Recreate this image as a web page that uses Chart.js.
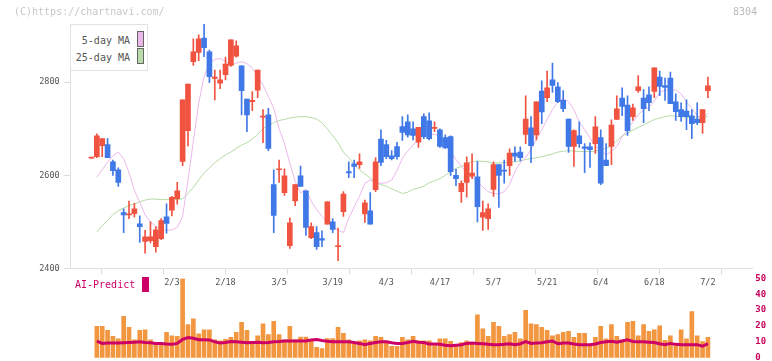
<!DOCTYPE html>
<html>
<head>
<meta charset="utf-8">
<script src="https://cdn.jsdelivr.net/npm/chart.js@4.4.1/dist/chart.umd.min.js"></script>
<style>
  html, body { margin: 0; padding: 0; background: #fff; }
  #wrap { position: relative; width: 772px; height: 361px; overflow: hidden; font-family: 'DejaVu Sans Mono', monospace; }
  .box { position: absolute; left: 0; width: 772px; }
  #priceBox { top: 0; height: 292px; }
  #volBox { top: 268px; height: 99px; }
  .copy { position: absolute; left: 14px; top: 6px; font-size: 10px; line-height: 12px; color: #c8c8c8; }
  .code { position: absolute; left: 733px; top: 6px; font-size: 10px; line-height: 12px; color: #bbb; }
  #legend { position: absolute; left: 70px; top: 24px; width: 76px; height: 45px; border: 1px solid #e2e2e2; background: #fff; }
  #legend .txt { position: absolute; right: 17px; font-size: 10px; line-height: 12px; color: #555; white-space: nowrap; }
  #legend .sw { position: absolute; left: 66px; width: 5px; height: 14px; border: 1px solid #666; }
  .ai { position: absolute; left: 75px; top: 279px; font-size: 10px; line-height: 12px; color: #cc0066; }
  .aibox { position: absolute; left: 142px; top: 277px; width: 7px; height: 15px; background: #cc0066; }
</style>
</head>
<body>
<div id="wrap">
  <div class="box" id="priceBox"><canvas id="priceChart"></canvas></div>
  <div class="box" id="volBox"><canvas id="volChart"></canvas></div>
  <div class="copy">(C)https://chartnavi.com/</div>
  <div class="code">8304</div>
  <div id="legend">
    <span class="txt" style="top:10px">5-day MA</span><i class="sw" style="top:6px;background:#ebb8ec"></i>
    <span class="txt" style="top:27px">25-day MA</span><i class="sw" style="top:23px;background:#b8dca8"></i>
  </div>
  <div class="ai">AI-Predict</div>
  <div class="aibox"></div>
</div>
<script>
(function () {
  'use strict';

  const UP = '#f05340';
  const DOWN = '#4078e8';
  const MA5_COLOR = '#ebb8ec';
  const MA25_COLOR = '#b5dba5';
  const VOL_COLOR = '#f29640';
  const AI_COLOR = '#cc0066';
  const AXIS = '#e0e0e0';

  // daily candles, oldest first
  const opens = [2637, 2640, 2664, 2666, 2629, 2612, 2520, 2515, 2518, 2496, 2458, 2460, 2447, 2464, 2511, 2525, 2550, 2630, 2696, 2844,
    2864, 2895, 2865, 2808, 2798, 2816, 2836, 2856, 2835, 2764, 2758, 2783, 2725, 2730, 2580, 2612, 2563, 2449, 2545, 2599,
    2567, 2466, 2477, 2464, 2495, 2500, 2447, 2522, 2608, 2625, 2623, 2517, 2524, 2569, 2678, 2666, 2642, 2662, 2705, 2715,
    2700, 2671, 2726, 2717, 2701, 2698, 2681, 2683, 2600, 2565, 2585, 2598, 2597, 2510, 2507, 2570, 2623, 2611, 2621, 2648,
    2650, 2688, 2702, 2687, 2781, 2767, 2805, 2790, 2761, 2721, 2662, 2685, 2661, 2661, 2668, 2681, 2633, 2662, 2720, 2766,
    2751, 2726, 2782, 2766, 2773, 2780, 2811, 2793, 2809, 2758, 2741, 2738, 2728, 2721, 2713, 2782];
  const highs = [2637, 2689, 2679, 2679, 2633, 2616, 2528, 2545, 2540, 2513, 2482, 2500, 2490, 2507, 2539, 2555, 2585, 2762, 2796, 2893,
    2902, 2925, 2869, 2826, 2826, 2854, 2891, 2889, 2835, 2764, 2780, 2826, 2741, 2744, 2612, 2633, 2614, 2509, 2580, 2620,
    2567, 2498, 2490, 2481, 2543, 2507, 2487, 2565, 2629, 2633, 2646, 2547, 2563, 2638, 2698, 2675, 2653, 2671, 2726, 2730,
    2715, 2703, 2732, 2734, 2715, 2700, 2687, 2685, 2613, 2588, 2640, 2646, 2630, 2545, 2539, 2629, 2623, 2633, 2657, 2661,
    2661, 2771, 2726, 2758, 2803, 2824, 2841, 2799, 2782, 2721, 2698, 2715, 2668, 2670, 2726, 2698, 2668, 2719, 2771, 2788,
    2771, 2753, 2814, 2784, 2790, 2831, 2824, 2809, 2822, 2775, 2756, 2762, 2741, 2756, 2741, 2811];
  const lows = [2637, 2638, 2640, 2638, 2600, 2576, 2477, 2507, 2510, 2456, 2433, 2455, 2435, 2462, 2476, 2513, 2538, 2621, 2663, 2836,
    2846, 2855, 2799, 2762, 2786, 2805, 2834, 2854, 2730, 2694, 2739, 2767, 2670, 2653, 2477, 2585, 2557, 2443, 2535, 2576,
    2471, 2464, 2441, 2447, 2495, 2477, 2417, 2512, 2595, 2595, 2615, 2499, 2495, 2565, 2621, 2636, 2633, 2635, 2675, 2682,
    2676, 2660, 2679, 2676, 2694, 2660, 2658, 2600, 2578, 2542, 2553, 2593, 2500, 2482, 2484, 2555, 2531, 2583, 2600, 2630,
    2631, 2668, 2627, 2676, 2711, 2758, 2778, 2756, 2737, 2649, 2619, 2660, 2606, 2617, 2647, 2580, 2621, 2623, 2720, 2728,
    2686, 2718, 2778, 2713, 2739, 2767, 2771, 2761, 2754, 2718, 2716, 2698, 2679, 2709, 2690, 2767];
  const closes = [2637, 2685, 2679, 2638, 2610, 2585, 2515, 2517, 2528, 2490, 2468, 2468, 2483, 2503, 2497, 2553, 2567, 2762, 2796, 2865,
    2893, 2874, 2812, 2811, 2805, 2839, 2891, 2878, 2782, 2730, 2761, 2826, 2727, 2658, 2514, 2614, 2599, 2498, 2580, 2576,
    2488, 2490, 2447, 2461, 2543, 2484, 2449, 2560, 2605, 2619, 2629, 2541, 2495, 2629, 2628, 2640, 2636, 2640, 2692, 2687,
    2686, 2703, 2683, 2679, 2703, 2662, 2659, 2608, 2593, 2583, 2627, 2605, 2533, 2520, 2528, 2623, 2600, 2609, 2648, 2641,
    2638, 2721, 2664, 2758, 2736, 2788, 2793, 2758, 2743, 2662, 2696, 2668, 2658, 2655, 2704, 2583, 2621, 2708, 2743, 2748,
    2696, 2745, 2790, 2743, 2756, 2831, 2791, 2789, 2754, 2737, 2726, 2726, 2711, 2713, 2741, 2792];

  const ma5 = [null, 2596, 2612, 2628, 2642, 2650, 2636, 2606, 2568, 2542, 2515, 2500, 2490, 2484, 2482, 2483, 2488, 2512, 2590, 2672,
    2755, 2812, 2840, 2849, 2851, 2845, 2837, 2841, 2844, 2840, 2830, 2812, 2794, 2769, 2744, 2700, 2669, 2626, 2587, 2562,
    2570, 2544, 2526, 2512, 2499, 2489, 2483, 2477, 2508, 2532, 2555, 2583, 2590, 2583, 2583, 2584, 2590, 2610, 2637, 2652,
    2665, 2677, 2687, 2688, 2688, 2684, 2667, 2651, 2634, 2620, 2607, 2596, 2586, 2575, 2565, 2561, 2560, 2565, 2580, 2608,
    2627, 2638, 2656, 2677, 2698, 2720, 2741, 2758, 2765, 2758, 2741, 2715, 2698, 2680, 2663, 2653, 2644, 2651, 2662, 2683,
    2699, 2715, 2730, 2742, 2746, 2760, 2778, 2783, 2784, 2783, 2775, 2758, 2744, 2728, 2722, 2734];
  const ma25 = [null, 2478, 2492, 2503, 2516, 2524, 2530, 2535, 2539, 2543, 2547, 2549, 2549, 2548, 2548, 2548, 2548, 2550, 2561, 2574,
    2590, 2605, 2616, 2627, 2636, 2644, 2650, 2658, 2665, 2670, 2678, 2688, 2700, 2708, 2713, 2718, 2720, 2723, 2725, 2726,
    2726, 2724, 2721, 2713, 2700, 2685, 2670, 2650, 2638, 2623, 2612, 2603, 2594, 2586, 2580, 2577, 2571, 2566, 2561, 2564,
    2570, 2573, 2577, 2584, 2588, 2593, 2600, 2608, 2615, 2619, 2625, 2629, 2631, 2630, 2629, 2626, 2627, 2627, 2628, 2629,
    2631, 2634, 2636, 2638, 2640, 2643, 2646, 2650, 2652, 2653, 2652, 2651, 2651, 2651, 2652, 2655, 2658, 2664, 2674, 2685,
    2690, 2697, 2703, 2708, 2714, 2720, 2723, 2726, 2728, 2727, 2726, 2725, 2725, 2725, 2725, 2726];

  const volume = [null, 19.7, 19.7, 17.2, 13.4, 11.9, 26.0, 19.1, 11.3, 17.2, 17.6, 11.3, 9.2, 8.2, 16.0, 13.8, 13.4, 49.7, 20.8, 24.5,
    15.1, 17.6, 17.6, 11.3, 10.7, 11.5, 12.8, 16.0, 22.2, 17.2, 10.3, 13.8, 21.4, 14.5, 22.9, 14.5, 11.3, 19.7, 11.3, 13.0,
    13.0, 10.3, 6.6, 5.7, 12.0, 12.0, 19.2, 15.3, 11.3, 9.6, 10.7, 11.3, 10.7, 13.4, 12.8, 10.7, 7.1, 7.1, 12.8, 11.3,
    13.4, 10.7, 10.7, 10.7, 7.6, 11.9, 11.9, 10.3, 7.6, 9.6, 10.7, 9.6, 27.0, 18.2, 13.4, 22.2, 19.7, 13.4, 14.5, 16.0,
    11.9, 29.8, 21.4, 20.8, 19.1, 17.2, 13.8, 14.5, 16.0, 16.6, 12.8, 15.3, 15.3, 7.6, 12.8, 19.7, 11.9, 20.8, 13.4, 11.3,
    22.2, 22.9, 13.8, 20.8, 16.6, 17.6, 20.1, 10.9, 13.8, 7.6, 17.6, 11.9, 29.1, 13.8, 10.1, 12.8];
  const aiPredict = [null, 10.5, 9.0, 9.2, 9.2, 9.2, 9.4, 9.6, 9.8, 10.0, 9.6, 9.4, 9.0, 9.0, 8.6, 8.4, 9.0, 11.5, 12.7, 12.2,
    11.3, 11.3, 11.2, 10.0, 9.2, 9.6, 10.2, 10.0, 9.8, 9.4, 9.6, 9.8, 9.4, 9.6, 10.0, 10.2, 10.5, 10.5, 10.5, 10.5,
    10.5, 11.2, 11.5, 10.8, 10.3, 10.0, 10.0, 10.0, 10.0, 9.6, 9.0, 8.2, 9.0, 9.6, 10.0, 10.0, 9.4, 9.0, 9.0, 9.6,
    10.3, 9.8, 9.6, 8.6, 8.6, 8.4, 7.8, 7.6, 7.9, 8.2, 9.0, 9.2, 9.0, 8.8, 8.4, 8.2, 8.2, 8.4, 8.8, 8.2,
    8.8, 10.2, 9.0, 9.2, 9.4, 10.0, 10.5, 8.8, 9.2, 9.2, 8.6, 8.2, 8.2, 8.2, 8.6, 9.6, 10.0, 10.3, 9.8, 10.5,
    11.3, 10.2, 10.0, 10.0, 9.8, 9.6, 8.8, 8.2, 9.0, 8.4, 8.2, 8.2, 8.2, 8.2, 7.2, 8.8];

  const dateLabels = ['2/3', '2/18', '3/5', '3/19', '4/3', '4/17', '5/7', '5/21', '6/4', '6/18', '7/2'];
  const dateIndex = [15, 25, 35, 45, 55, 65, 75, 85, 95, 105, 115];
  const priceTicks = [2400, 2600, 2800];
  const volTicks = [0, 10, 20, 30, 40, 50];

  const X_MIN = -3.88;
  const X_MAX = 123.28;
  const FONT = "'DejaVu Sans Mono', monospace";

  Chart.defaults.font.family = FONT;
  Chart.defaults.animation = false;

  function pts(arr) { return arr.map(function (v, i) { return { x: i, y: v }; }); }
  function candleColor(ctx) {
    const i = ctx.dataIndex;
    return closes[i] >= opens[i] ? UP : DOWN;
  }

  new Chart(document.getElementById('priceChart'), {
    type: 'bar',
    data: {
      datasets: [
        {
          label: 'wick',
          data: highs.map(function (h, i) { return { x: i, y: [lows[i], h] }; }),
          backgroundColor: candleColor,
          barThickness: 1,
          grouped: false,
          order: 1,
        },
        {
          label: 'body',
          data: opens.map(function (o, i) { return { x: i, y: [o, closes[i]] }; }),
          backgroundColor: candleColor,
          barThickness: 5,
          minBarLength: 1,
          grouped: false,
          order: 0,
        },
        {
          type: 'line',
          label: '5-day MA',
          data: pts(ma5),
          borderColor: MA5_COLOR,
          borderWidth: 1,
          pointRadius: 0,
          tension: 0,
          order: 2,
        },
        {
          type: 'line',
          label: '25-day MA',
          data: pts(ma25),
          borderColor: MA25_COLOR,
          borderWidth: 1,
          pointRadius: 0,
          tension: 0,
          order: 3,
        },
      ],
    },
    options: {
      responsive: true,
      maintainAspectRatio: false,
      layout: { padding: { top: 24, right: 19.7, left: 0, bottom: 0 } },
      plugins: { legend: { display: false }, tooltip: { enabled: false } },
      scales: {
        x: {
          type: 'linear',
          position: 'bottom',
          min: X_MIN,
          max: X_MAX,
          offset: false,
          afterBuildTicks: function (s) {
            s.ticks = [];
            for (let j = 0; j <= 11; j++) s.ticks.push({ value: X_MIN + j * (X_MAX - X_MIN) / 11 });
          },
          afterFit: function (s) { s.height = 6; },
          grid: { display: true, drawOnChartArea: false, drawTicks: true, tickLength: 6, color: '#dcdcdc' },
          border: { display: true, color: AXIS, width: 1 },
          ticks: { display: false },
        },
        xd: {
          type: 'linear',
          position: 'bottom',
          min: X_MIN,
          max: X_MAX,
          offset: false,
          afterBuildTicks: function (s) {
            s.ticks = dateIndex.map(function (v) { return { value: v }; });
          },
          afterFit: function (s) { s.height = 17.5; },
          grid: { display: false, drawTicks: false, tickLength: 0 },
          border: { display: false },
          ticks: {
            autoSkip: false,
            maxRotation: 0,
            padding: 3,
            color: '#555',
            font: { size: 8.5 },
            callback: function (v) { return dateLabels[dateIndex.indexOf(v)]; },
          },
        },
        y: {
          min: 2400,
          max: 2925,
          afterBuildTicks: function (s) {
            s.ticks = priceTicks.map(function (v) { return { value: v }; });
          },
          afterFit: function (s) { s.width = 70.7; },
          grid: { drawOnChartArea: false, tickLength: 7, color: '#dcdcdc' },
          border: { color: AXIS, width: 1 },
          ticks: {
            color: '#555',
            padding: 4,
            font: { size: 8.5 },
            callback: function (v) { return String(v); },
          },
        },
      },
    },
  });

  new Chart(document.getElementById('volChart'), {
    type: 'bar',
    data: {
      datasets: [
        {
          type: 'line',
          label: 'AI-Predict',
          data: pts(aiPredict),
          borderColor: AI_COLOR,
          borderWidth: 3,
          pointRadius: 0,
          tension: 0,
          order: 0,
        },
        {
          label: 'volume',
          data: pts(volume),
          backgroundColor: VOL_COLOR,
          barThickness: 4,
          grouped: false,
          order: 1,
        },
      ],
    },
    options: {
      responsive: true,
      maintainAspectRatio: false,
      layout: { padding: { top: 10.3, right: 0, left: 70.7, bottom: 9.3 } },
      plugins: { legend: { display: false }, tooltip: { enabled: false } },
      scales: {
        x: { type: 'linear', min: X_MIN, max: X_MAX, offset: false, display: false },
        y: {
          position: 'right',
          min: 0,
          max: 50,
          afterBuildTicks: function (s) {
            s.ticks = volTicks.map(function (v) { return { value: v }; });
          },
          afterFit: function (s) { s.width = 19.7; },
          grid: { display: false, drawTicks: false },
          border: { display: false },
          ticks: { color: '#c8005a', padding: 3, font: { size: 9, weight: 'bold' } },
        },
      },
    },
  });
})();
</script>
</body>
</html>
